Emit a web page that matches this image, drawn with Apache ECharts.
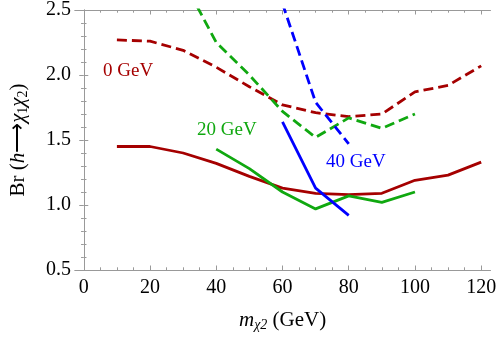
<!DOCTYPE html>
<html>
<head>
<meta charset="utf-8">
<script src="https://cdn.jsdelivr.net/npm/echarts@6/dist/echarts.min.js"></script>
<style>
  html, body { margin: 0; padding: 0; background: #fff; }
  #chart { width: 499px; height: 337px; }
</style>
</head>
<body>
<div id="chart"></div>
<script>
// masses of chi_2 (GeV)
const massAll = [10, 20, 30, 40, 50, 60, 70, 80, 90, 100, 110, 120]
const mass20 = [30, 40, 50, 60, 70, 80, 90, 100]
const mass20s = [40, 50, 60, 70, 80, 90, 100]
const mass40 = [60, 70, 80]

// 0 GeV (dark red)
const red0Dashed = [2.27, 2.26, 2.19, 2.06, 1.91, 1.77, 1.71, 1.68, 1.70, 1.87, 1.92, 2.07]
const red0Solid = [1.45, 1.45, 1.40, 1.32, 1.22, 1.13, 1.09, 1.08, 1.09, 1.19, 1.23, 1.33]
// 20 GeV (green)
const green20Dashed = [2.73, 2.25, 2.00, 1.72, 1.52, 1.67, 1.59, 1.70]
const green20Solid = [1.43, 1.28, 1.10, 0.97, 1.07, 1.02, 1.10]
// 40 GeV (blue)
const blue40Dashed = [2.55, 1.79, 1.47]
const blue40Solid = [1.64, 1.13, 0.92]

const xMajor = [0, 20, 40, 60, 80, 100, 120]
const xMinor = [5, 10, 15, 25, 30, 35, 45, 50, 55, 65, 70, 75, 85, 90, 95, 105, 110, 115]

const FONT = 'Liberation Serif'
const FRAME = '#999999'
const X_MIN = -2.65, X_MAX = 122.75

function pairs(xs, ys) {
  return xs.map((x, i) => [x, ys[i]])
}

function xAx(pos, values, len, labels) {
  return {
    type: 'value', position: pos, min: X_MIN, max: X_MAX,
    axisLine: { show: true, lineStyle: { color: FRAME, width: 1 } },
    axisTick: { show: true, inside: true, length: len, customValues: values, lineStyle: { color: FRAME } },
    axisLabel: labels ? { show: true, customValues: xMajor, fontFamily: FONT, fontSize: 20, color: '#000', margin: 8 } : { show: false },
    splitLine: { show: false }
  }
}

function yAx(pos, labels) {
  return {
    type: 'value', position: pos, min: 0.5, max: 2.5, interval: 0.5,
    axisLine: { show: true, lineStyle: { color: FRAME, width: 1 } },
    axisTick: { show: true, inside: true, length: 4.5, lineStyle: { color: FRAME } },
    minorTick: { show: true, splitNumber: 5, length: 2.7, lineStyle: { color: FRAME } },
    axisLabel: labels ? { show: true, fontFamily: FONT, fontSize: 20, color: '#000', margin: 4, formatter: v => v.toFixed(1) } : { show: false },
    splitLine: { show: false }
  }
}

function line(data, color, dashed) {
  return {
    type: 'line', data: data, symbol: 'none', clip: true, animation: false,
    lineStyle: { color: color, width: 2.8, type: dashed ? [10, 5] : 'solid' }
  }
}

const bottomMain = xAx('bottom', xMajor, 4.5, true)
bottomMain.name = '{i|m}{s|χ2} (GeV)'
bottomMain.nameLocation = 'middle'
bottomMain.nameGap = 39
bottomMain.nameTextStyle = {
  fontFamily: FONT, fontSize: 21, color: '#000',
  rich: {
    i: { fontFamily: FONT, fontSize: 21, fontStyle: 'italic', color: '#000' },
    s: { fontFamily: FONT, fontSize: 14, fontStyle: 'italic', color: '#000', padding: [9, 0, 0, 0] }
  }
}

const leftMain = yAx('left', true)
leftMain.name = 'Br ({i|h}⟶{g|χ}{s|1}{g|χ}{s|2})'
leftMain.nameLocation = 'middle'
leftMain.nameGap = 45
leftMain.nameTextStyle = {
  fontFamily: FONT, fontSize: 21, color: '#000',
  rich: {
    i: { fontFamily: FONT, fontSize: 21, fontStyle: 'italic', color: '#000' },
    g: { fontFamily: FONT, fontSize: 21, fontStyle: 'italic', color: '#000' },
    s: { fontFamily: FONT, fontSize: 14, color: '#000', padding: [9, 0, 0, 0] }
  }
}

const option = {
  backgroundColor: '#fff',
  animation: false,
  grid: { left: 66, right: 8, top: 10, bottom: 66 },
  xAxis: [
    bottomMain,
    xAx('bottom', xMinor, 2.7, false),
    xAx('top', xMajor, 4.5, false),
    xAx('top', xMinor, 2.7, false)
  ],
  yAxis: [leftMain, yAx('right', false)],
  series: [
    line(pairs(massAll, red0Dashed), '#a50000', true),
    line(pairs(massAll, red0Solid), '#a50000', false),
    line(pairs(mass20, green20Dashed), '#10a810', true),
    line(pairs(mass20s, green20Solid), '#10a810', false),
    line(pairs(mass40, blue40Dashed), '#0000ff', true),
    line(pairs(mass40, blue40Solid), '#0000ff', false)
  ],
  graphic: [
    { type: 'text', left: 103, top: 62, style: { text: '0 GeV', fill: '#a50000', font: '19px "Liberation Serif"' } },
    { type: 'text', left: 197, top: 121, style: { text: '20 GeV', fill: '#10a810', font: '19px "Liberation Serif"' } },
    { type: 'text', left: 326, top: 153, style: { text: '40 GeV', fill: '#0000ff', font: '19px "Liberation Serif"' } }
  ]
}

let myChart = echarts.init(document.getElementById('chart'), null, { renderer: 'canvas' })
myChart.setOption(option)
</script>
</body>
</html>
